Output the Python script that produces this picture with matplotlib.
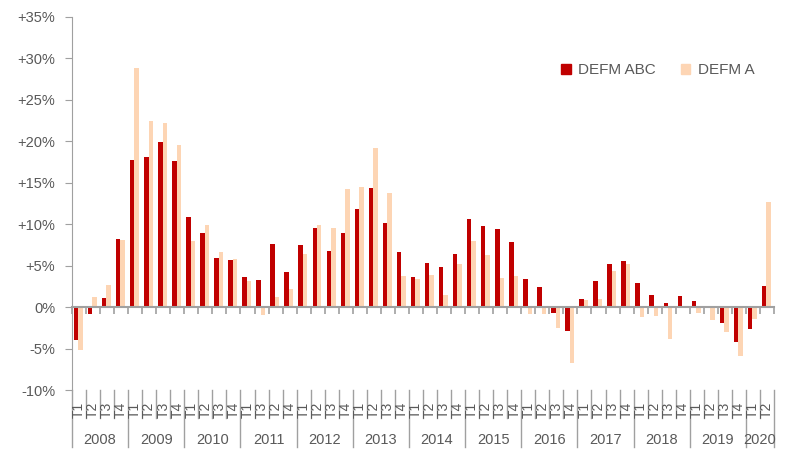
import matplotlib.pyplot as plt
from matplotlib.patches import Patch
import numpy as np

plt.rcParams['font.family'] = ['Liberation Sans', 'DejaVu Sans']

# Data
years = ["2008", "2009", "2010", "2011", "2012", "2013", "2014",
         "2015", "2016", "2017", "2018", "2019", "2020"]
quarters = [
    ["T1", "T2", "T3", "T4"], ["T1", "T2", "T3", "T4"], ["T1", "T2", "T3", "T4"],
    ["T1", "T3", "T2", "T4"], ["T1", "T2", "T3", "T4"], ["T1", "T2", "T3", "T4"],
    ["T1", "T2", "T3", "T4"], ["T1", "T2", "T3", "T4"], ["T1", "T2", "T3", "T4"],
    ["T1", "T2", "T3", "T4"], ["T1", "T2", "T3", "T4"], ["T1", "T2", "T3", "T4"],
    ["T1", "T2"],
]
defm_abc = [-4.0, -0.8, 1.1, 8.2,
            17.7, 18.1, 19.9, 17.6,
            10.9, 9.0, 5.9, 5.7,
            3.6, 3.3, 7.6, 4.2,
            7.5, 9.5, 6.8, 9.0,
            11.8, 14.4, 10.2, 6.6,
            3.6, 5.3, 4.8, 6.4,
            10.6, 9.8, 9.4, 7.8,
            3.4, 2.4, -0.7, -2.9,
            1.0, 3.1, 5.2, 5.6,
            2.9, 1.5, 0.5, 1.4,
            0.7, 0.0, -1.9, -4.2,
            -2.7, 2.5]
defm_a = [-5.2, 1.2, 2.7, 8.1,
          28.8, 22.4, 22.2, 19.6,
          8.0, 9.9, 6.7, 5.8,
          3.2, -1.0, 1.2, 2.2,
          6.4, 9.9, 9.5, 14.2,
          14.5, 19.2, 13.8, 3.7,
          3.4, 3.9, 1.5, 5.2,
          8.0, 6.3, 3.5, 3.7,
          -0.8, -0.8, -2.5, -6.7,
          0.8, 1.0, 4.3, 5.2,
          -1.2, -1.1, -3.9, 0.1,
          -0.7, -1.6, -3.0, -5.9,
          -1.4, 12.7]

red = "#C00000"
peach = "#FDD5B4"
grey_txt = "#595959"
grey_line = "#A0A0A0"

fig = plt.figure(figsize=(7.87, 4.5), dpi=100)
ax = fig.add_axes([72 / 787, 1 - 390 / 450, 702 / 787, 373 / 450])

n = len(defm_abc)
x = np.arange(n)
w = 0.32
ax.bar(x - w / 2 - 0.05, defm_abc, w, color=red, label="DEFM ABC")
ax.bar(x + w / 2 - 0.05, defm_a, w, color=peach, label="DEFM A")

ax.set_xlim(-0.5, n - 0.5)
ax.set_ylim(-10, 35)
yt = np.arange(-10, 36, 5)
ax.set_yticks(yt)
ax.set_yticklabels([("+%d%%" % v) if v > 0 else ("%d%%" % v) for v in yt],
                   color=grey_txt, fontsize=10.5)
ax.tick_params(axis="y", length=5, color=grey_line, pad=7)

for s in ["top", "right"]:
    ax.spines[s].set_visible(False)
ax.spines["left"].set_color(grey_line)
ax.spines["bottom"].set_position(("data", 0))
ax.spines["bottom"].set_color(grey_line)
ax.spines["bottom"].set_linewidth(1.5)
ax.set_xticks(np.arange(-0.5, n, 1.0))
ax.set_xticklabels([])
ax.tick_params(axis="x", length=5, color=grey_line, width=1.2)

# Category labels below the plot
trans = ax.get_xaxis_transform()
px = 1 / 373
pos = 0
for yr, qs in zip(years, quarters):
    for i, q in enumerate(qs):
        ax.text(pos + i, -28 * px, q, transform=trans, rotation=90,
                ha="center", va="bottom", fontsize=10, color=grey_txt)
        if i > 0:
            ax.plot([pos + i - 0.5] * 2, [0, -28 * px], transform=trans,
                    color=grey_line, lw=1, clip_on=False)
    ax.plot([pos - 0.5] * 2, [0, -57 * px], transform=trans,
            color=grey_line, lw=1, clip_on=False)
    ax.text(pos + (len(qs) - 1) / 2, -50 * px, yr, transform=trans,
            ha="center", va="center", fontsize=10.5, color=grey_txt)
    pos += len(qs)
ax.plot([pos - 0.5] * 2, [0, -57 * px], transform=trans,
        color=grey_line, lw=1, clip_on=False)

handles = [Patch(color=red, label="DEFM ABC"), Patch(color=peach, label="DEFM A")]
leg = fig.legend(handles=handles, loc="center left", bbox_to_anchor=(547 / 787, 1 - 70 / 450),
                 ncol=2, frameon=False, handlelength=0.65, handleheight=0.65,
                 handletextpad=0.5, columnspacing=1.6, fontsize=11)
for t in leg.get_texts():
    t.set_color(grey_txt)

fig.savefig("out.png", dpi=100)
